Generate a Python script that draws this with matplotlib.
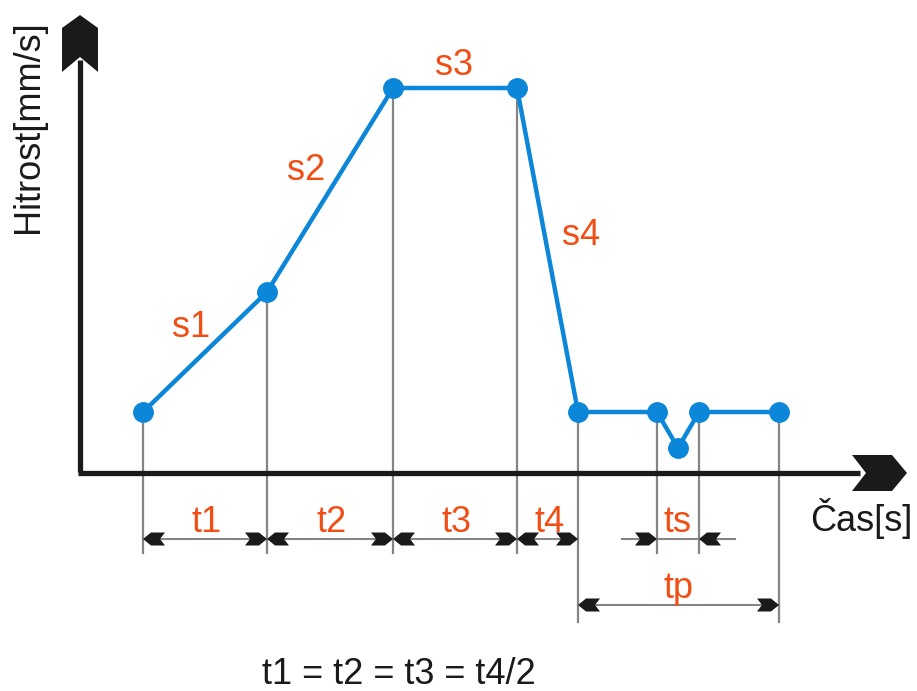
import numpy as np
import matplotlib
matplotlib.use("Agg")
import matplotlib.pyplot as plt
from matplotlib.patches import Polygon

plt.rcParams['font.family'] = ['Liberation Sans', 'DejaVu Sans']

# ---- data (time / speed in drawing units) ----
time = [143, 267, 393, 517, 578, 657, 678, 699, 779]
speed = [61, 181, 385, 385, 61, 61, 25, 61, 61]
seg_labels = ['s1', 's2', 's3', 's4']
dim_labels = ['t1', 't2', 't3', 't4']
ts_label = 'ts'
tp_label = 'tp'
xlabel = 'Čas[s]'
ylabel = 'Hitrost[mm/s]'
formula = 't1 = t2 = t3 = t4/2'

BLUE = '#0b86d8'
ORANGE = '#f04e14'
GREY = '#858585'
BLACK = '#1a1a1a'
FS = 26

fig = plt.figure(figsize=(9.17, 6.91), dpi=100)
ax = fig.add_axes([0, 0, 1, 1])
ax.set_xlim(0, 917)
ax.set_ylim(473 - 691, 473)
ax.axis('off')


def chevron(tip, direction, L, W, S, N, **kw):
    d = np.asarray(direction, float)
    d = d / np.linalg.norm(d)
    p = np.array([-d[1], d[0]])
    tip = np.asarray(tip, float)
    local = [(0, 0), (S, W), (L, W), (N, 0), (L, -W), (S, -W)]
    pts = [tip - a * d + b * p for a, b in local]
    ax.add_patch(Polygon(pts, closed=True, **kw))


# ---- axes with big arrowheads ----
x0 = 80
ax.plot([x0 - 2, 860], [0, 0], color=BLACK, lw=3.8, solid_capstyle='butt', zorder=3)
ax.plot([x0, x0], [1.5, 473 - 60], color=BLACK, lw=3.8, solid_capstyle='butt', zorder=3)
chevron((907, 0), (1, 0), 55, 18, 15, 41, color=BLACK, zorder=4, lw=0)
chevron((x0, 473 - 15), (0, 1), 57, 18, 13, 42, color=BLACK, zorder=4, lw=0)

# ---- extension lines ----
dim_y = 473 - 539
tp_y = 473 - 605
short_end = 473 - 553
long_end = 473 - 622
for i, (t, s) in enumerate(zip(time, speed)):
    if i == 6:
        continue
    end = long_end if i in (4, 8) else short_end
    ax.plot([t, t], [s, end], color=GREY, lw=1.6, zorder=1)

# ---- profile ----
ax.plot(time, speed, color=BLUE, lw=3.2, marker='o', markersize=14,
        markerfacecolor=BLUE, markeredgecolor=BLUE, zorder=5,
        solid_joinstyle='round')

# ---- dimension lines ----
SA = dict(L=22, W=6.5, S=8, N=17, color=BLACK, lw=0, zorder=4)
for a, b, lab in zip(time[:4], time[1:5], dim_labels):
    ax.plot([a, b], [dim_y, dim_y], color=GREY, lw=1.5, zorder=2)
    chevron((a, dim_y), (-1, 0), **SA)
    chevron((b, dim_y), (1, 0), **SA)
    ax.text((a + b) / 2 + 2, 473 - 532, lab, color=ORANGE, fontsize=FS,
            ha='center', va='baseline')

# ts (arrows from outside)
ta, tb = time[5], time[7]
ax.plot([ta - 35, tb + 36], [dim_y, dim_y], color=GREY, lw=1.5, zorder=2)
chevron((ta, dim_y), (1, 0), **SA)
chevron((tb, dim_y), (-1, 0), **SA)
ax.text((ta + tb) / 2, 473 - 532, ts_label, color=ORANGE, fontsize=FS,
        ha='center', va='baseline')

# tp
pa, pb = time[4], time[8]
ax.plot([pa, pb], [tp_y, tp_y], color=GREY, lw=1.5, zorder=2)
chevron((pa, tp_y), (-1, 0), **SA)
chevron((pb, tp_y), (1, 0), **SA)
ax.text((pa + pb) / 2, 473 - 598, tp_label, color=ORANGE, fontsize=FS,
        ha='center', va='baseline')

# ---- segment labels ----
seg_pos = [(191, 473 - 337), (306, 473 - 180), (454, 473 - 75), (581, 473 - 245)]
for (x, y), lab in zip(seg_pos, seg_labels):
    ax.text(x, y, lab, color=ORANGE, fontsize=FS, ha='center', va='baseline')

# ---- axis labels ----
ax.text(913, 473 - 531, xlabel, color=BLACK, fontsize=FS, ha='right', va='baseline')
ax.text(29, 473 - 127, ylabel, color=BLACK, fontsize=FS, ha='center', va='center',
        rotation=90)

# ---- formula ----
ax.text(399, 473 - 684, formula, color=BLACK, fontsize=FS, ha='center', va='baseline')

fig.savefig('out.png', dpi=100, facecolor='white')
